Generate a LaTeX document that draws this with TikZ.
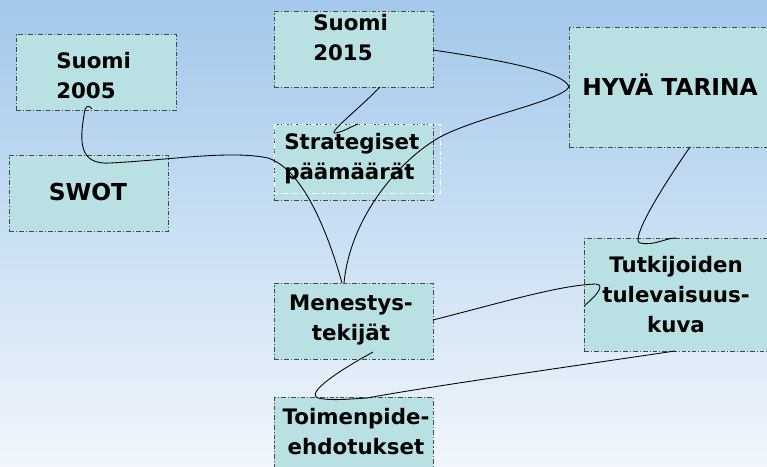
\documentclass[tikz,border=0pt]{standalone}
\usepackage{fontspec}
\setmainfont{DejaVu Sans}
\definecolor{bgtop}{RGB}{162,200,235}
\definecolor{bgbot}{RGB}{241,246,252}
\definecolor{boxfill}{RGB}{185,224,226}
\definecolor{boxline}{RGB}{70,70,70}
\begin{document}
\begin{tikzpicture}[x=0.75pt,y=-0.75pt,
  box/.style={draw=boxline, dash pattern=on 3.5pt off 1.5pt on 0.8pt off 1.5pt, line width=0.7pt, fill=boxfill, inner sep=0pt, anchor=north west},
  lbl/.style={font=\bfseries\fontsize{16}{22.5}\selectfont, inner sep=0pt},
  capslbl/.style={font=\bfseries\fontsize{17.5}{22.5}\selectfont, inner sep=0pt},
  conn/.style={draw=black, line width=0.65pt}]
% background
\shade[top color=bgtop, bottom color=bgbot] (0,0) rectangle (767,467);
\useasboundingbox (0,0) rectangle (767,467);
% boxes
\node[box, minimum width=120pt, minimum height=57pt] (s05) at (16,34) {};
\node[box, minimum width=119.25pt, minimum height=57pt] (swot) at (9,155) {};
\node[box, minimum width=119.25pt, minimum height=57pt] (s15) at (274,11) {};
\node[box, minimum width=119.25pt, minimum height=57pt] (str) at (274,124) {};
\draw[white, dash pattern=on 3.5pt off 1.5pt on 0.8pt off 1.5pt, line width=0.7pt] (str.north west) rectangle ++(166,69);
\node[box, minimum width=160pt, minimum height=90pt] (hyva) at (569,27) {};
\node[box, minimum width=143pt, minimum height=84.75pt] (tut) at (584,238) {};
\node[box, minimum width=119.25pt, minimum height=57pt] (men) at (274,283) {};
\node[box, minimum width=119.25pt, minimum height=62pt] (toi) at (274,397) {};
% texts
\node[lbl, align=left, anchor=west] (s05t) at (56,76) {Suomi\\2005};
\node[capslbl] (swott) at (88,192) {SWOT};
\node[lbl, align=left, anchor=west] (s15t) at (313,38) {Suomi\\2015};
\node[lbl, align=left, anchor=west] (strt) at (284,159) {Strategiset\\päämäärät};
\node[capslbl] (hyvat) at (670,85) {HYVÄ TARINA};
\node[lbl, align=center] (ment) at (351,320) {Menestys-\\tekijät};
\node[lbl, align=center] (tutt) at (676,295) {Tutkijoiden\\tulevaisuus-\\kuva};
\node[lbl, align=center] (toit) at (356,432) {Toimenpide-\\ehdotukset};
% connector end points
\coordinate (a1) at (92,109);
\coordinate (m1) at (342,283);
\coordinate (m2) at (344,283);
\coordinate (h1) at (569,87);
\coordinate (q1) at (433,50);
\coordinate (q2) at (380,87);
\coordinate (r1) at (358,124);
\coordinate (h2) at (690,147);
\coordinate (t1) at (676,238);
\coordinate (m3) at (433,320);
\coordinate (t2) at (584,306);
\coordinate (m4) at (373,352);
\coordinate (o1) at (367,398);
\coordinate (t3) at (675,351);
% connectors
\draw[conn] (a1) .. controls (89,105) and (85,104) .. (84,115)
  .. controls (80,140) and (78,165) .. (110,163)
  .. controls (170,160) and (230,150) .. (268,158)
  .. controls (305,170) and (330,240) .. (m1);
\draw[conn] (q1) .. controls (500,60) and (565,72) .. (h1);
\draw[conn] (h1) .. controls (560,102) and (470,118) .. (435,140)
  .. controls (395,165) and (350,220) .. (m2);
\draw[conn] (q2) .. controls (360,108) and (325,135) .. (336,133)
  .. controls (345,131) and (352,126) .. (r1);
\draw[conn] (h2) .. controls (660,190) and (630,240) .. (640,243)
  .. controls (655,246) and (665,238) .. (t1);
\draw[conn] (m3) .. controls (500,303) and (560,285) .. (596,284)
  .. controls (606,285) and (595,297) .. (t2);
\draw[conn] (m4) .. controls (340,370) and (305,393) .. (318,398)
  .. controls (330,401) and (350,399) .. (o1);
\draw[conn] (t3) .. controls (560,368) and (420,388) .. (o1);
\end{tikzpicture}
\end{document}
